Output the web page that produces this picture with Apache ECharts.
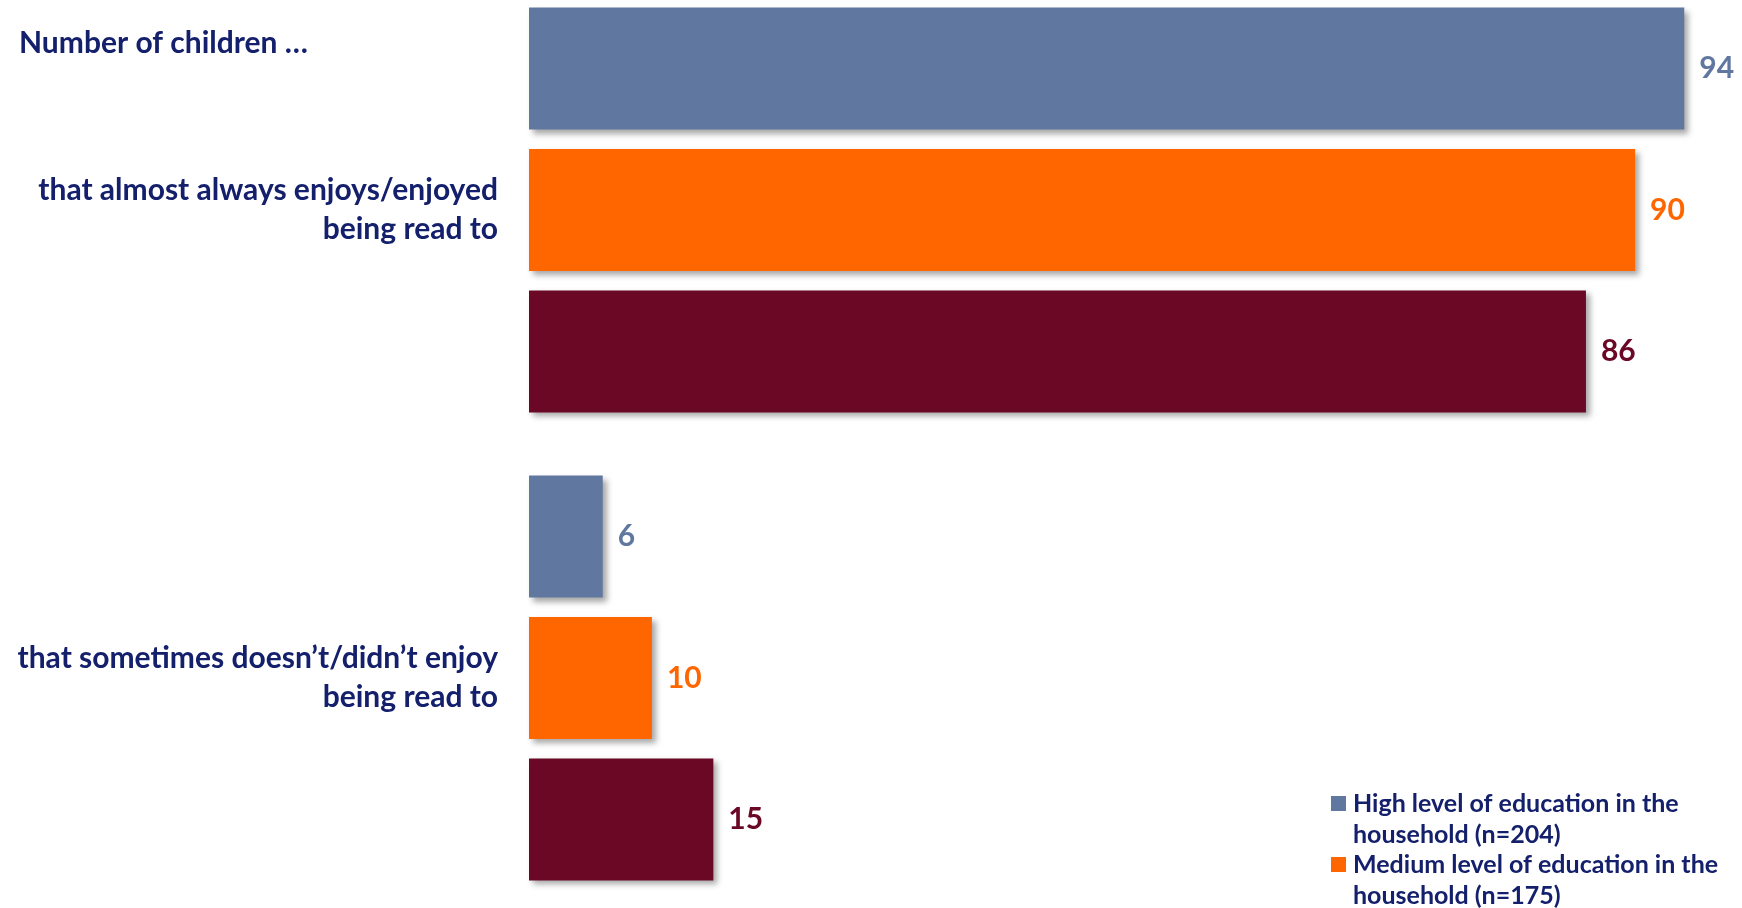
<!DOCTYPE html>
<html>
<head>
<meta charset="utf-8">
<script src="https://cdn.jsdelivr.net/npm/echarts@6/dist/echarts.min.js"></script>
<style>
  html, body { margin: 0; padding: 0; background: #ffffff; }
  #chart { width: 1742px; height: 908px; }
</style>
</head>
<body>
<div id="chart"></div>
<script>
const categories = [
  'that almost always enjoys/enjoyed\nbeing read to',
  'that sometimes doesn\u2019t/didn\u2019t enjoy\nbeing read to'
];
const seriesNames = [
  'High level of education in the\nhousehold (n=204)',
  'Medium level of education in the\nhousehold (n=175)',
  'Low level of education in the\nhousehold'
];
const highValues = [94, 6];
const mediumValues = [90, 10];
const lowValues = [86, 15];
const colors = ['#6078A0', '#FF6600', '#6B0826'];
const headerText = 'Number of children \u2026';

const FONT = 'Lato, "Open Sans", sans-serif';
const NAVY = '#14206B';

const values = [highValues, mediumValues, lowValues];
const series = seriesNames.map((name, i) => ({
  name: name,
  type: 'bar',
  data: values[i],
  barCategoryGap: '13.5%',
  barGap: '16%',
  itemStyle: {
    color: colors[i],
    shadowColor: 'rgba(0,0,0,0.35)',
    shadowBlur: 6,
    shadowOffsetX: 4,
    shadowOffsetY: 4
  },
  label: {
    show: true,
    position: 'right',
    distance: 15,
    color: colors[i],
    fontFamily: FONT,
    fontWeight: 'bold',
    fontSize: 30
  }
}));

// Legend drawn as graphic (only the two entries visible in the frame)
const legendItems = [];
const LEG_X = 1331, LEG_Y = 804, LEG_STEP = 61;
seriesNames.slice(0, 2).forEach((name, i) => {
  const cy = LEG_Y + i * LEG_STEP;
  legendItems.push({
    type: 'rect',
    shape: { x: LEG_X, y: cy - 8, width: 15, height: 15 },
    style: { fill: colors[i] }
  });
  legendItems.push({
    type: 'text',
    x: LEG_X + 22,
    y: cy - 15.5,
    style: {
      text: name,
      fill: NAVY,
      font: 'bold 25px ' + FONT,
      lineHeight: 31,
      verticalAlign: 'top',
      align: 'left'
    }
  });
});

const chart = echarts.init(document.getElementById('chart'), null, { renderer: 'canvas' });
chart.setOption({
  backgroundColor: '#ffffff',
  animation: false,
  title: {
    text: headerText,
    left: 14,
    top: 23,
    textStyle: { color: NAVY, fontFamily: FONT, fontWeight: 'bold', fontSize: 30 }
  },
  grid: { left: 529, top: -24, width: 1229, height: 936, outerBoundsMode: 'none', containLabel: false },
  xAxis: {
    type: 'value', min: 0, max: 100, show: false
  },
  yAxis: {
    type: 'category',
    data: categories,
    inverse: true,
    axisLine: { show: false },
    axisTick: { show: false },
    splitLine: { show: false },
    axisLabel: {
      margin: 31,
      align: 'right',
      color: NAVY,
      fontFamily: FONT,
      fontWeight: 'bold',
      fontSize: 30,
      lineHeight: 39
    }
  },
  graphic: legendItems,
  series: series
});
</script>
</body>
</html>
